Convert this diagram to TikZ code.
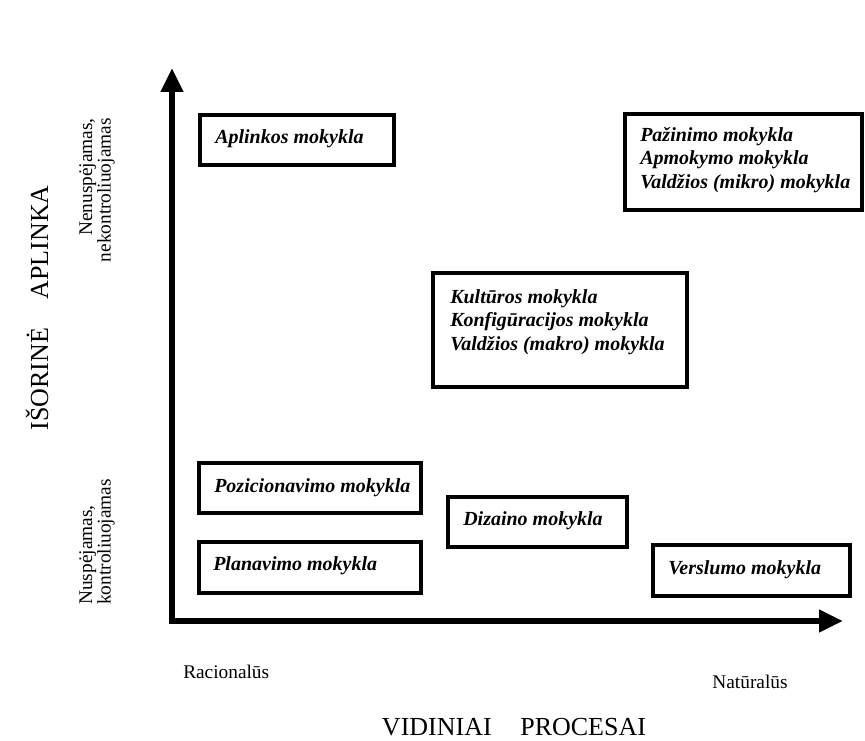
\documentclass[tikz,border=0pt]{standalone}
\usepackage{fontspec}
\setmainfont{Liberation Serif}
\usetikzlibrary{arrows.meta}
\begin{document}
\begin{tikzpicture}[x=0.75pt,y=-0.75pt,
  school/.style={draw=black, line width=2.4pt, rectangle, inner sep=0pt},
  schooltext/.style={anchor=west, align=left, inner sep=0pt,
    font=\fontsize{15}{17.8}\selectfont\bfseries\itshape},
  axisline/.style={line width=4.5pt, line join=miter,
    {Triangle[length=18pt,width=16pt]}-{Triangle[length=18pt,width=16pt]}},
  endlabel/.style={inner sep=0pt, font=\fontsize{14.5}{17}\selectfont},
  sidelabel/.style={inner sep=0pt, rotate=90, font=\fontsize{14.5}{14}\selectfont},
  axistitle/.style={inner sep=0pt, font=\fontsize{19.5}{22}\selectfont}]

\useasboundingbox (0,0) rectangle (865,741);

% axes
\coordinate (ytip) at (172,68);
\coordinate (orig) at (172,621);
\coordinate (xtip) at (843,621);
\draw[axisline] (ytip) -- (orig) -- (xtip);

% school boxes
\node[school, minimum width=194*0.75pt, minimum height=50*0.75pt] (aplinkos) at (297,140) {};
\node[schooltext] (aplinkosT) at (215,139) {Aplinkos mokykla};

\node[school, minimum width=237*0.75pt, minimum height=96*0.75pt] (pazinimo) at (743.5,162) {};
\node[schooltext] (pazinimoT) at (640,160) {Pažinimo mokykla\\Apmokymo mokykla\\Valdžios (mikro) mokykla};

\node[school, minimum width=254*0.75pt, minimum height=114*0.75pt] (kulturos) at (560,330) {};
\node[schooltext] (kulturosT) at (450,322) {Kultūros mokykla\\Konfigūracijos mokykla\\Valdžios (makro) mokykla};

\node[school, minimum width=222*0.75pt, minimum height=50*0.75pt] (pozicion) at (310,488) {};
\node[schooltext] (pozicionT) at (214,488) {Pozicionavimo mokykla};

\node[school, minimum width=179*0.75pt, minimum height=50*0.75pt] (dizaino) at (537.5,522) {};
\node[schooltext] (dizainoT) at (463,521) {Dizaino mokykla};

\node[school, minimum width=222*0.75pt, minimum height=51*0.75pt] (planav) at (310,567.5) {};
\node[schooltext] (planavT) at (213,566) {Planavimo mokykla};

\node[school, minimum width=197*0.75pt, minimum height=51*0.75pt] (verslumo) at (751.5,570.5) {};
\node[schooltext] (verslumoT) at (668,570) {Verslumo mokykla};

% axis end labels
\node[endlabel, anchor=west] (racional) at (183,672) {Racionalūs};
\node[endlabel] (natural) at (750,682) {Natūralūs};
\node[sidelabel, anchor=east, align=right] (nenusp) at (97,118) {Nenuspėjamas,\\nekontroliuojamas};
\node[sidelabel, anchor=west, align=left] (nusp) at (97,605) {Nuspėjamas,\\kontroliuojamas};

% axis titles
\node[axistitle] (vidiniai) at (514,727) {VIDINIAI\hspace{1.1em}PROCESAI};
\node[axistitle, rotate=90] (isorine) at (37,308) {IŠORINĖ\hspace{1.1em}APLINKA};

\end{tikzpicture}
\end{document}
